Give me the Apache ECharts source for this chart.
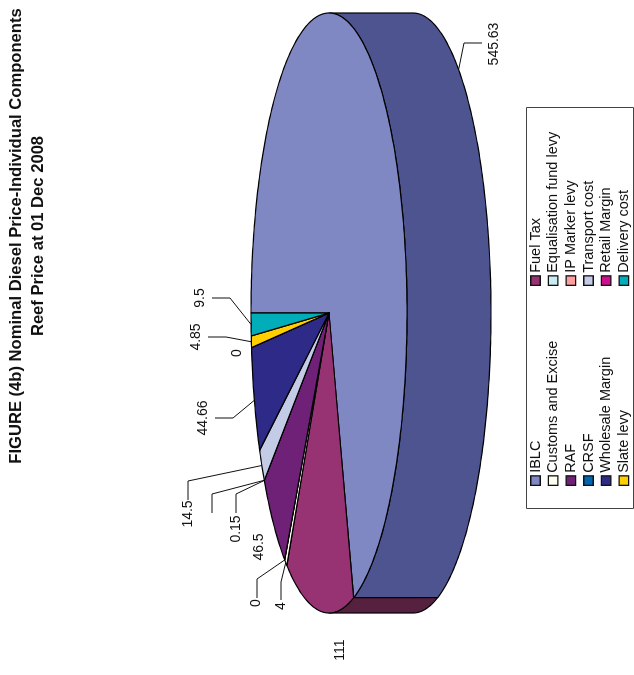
<!DOCTYPE html>
<html>
<head>
<meta charset="utf-8">
<style>
html,body{margin:0;padding:0;background:#fff;overflow:hidden;width:634px;height:675px}
#stage{position:absolute;left:0;top:0;width:675px;height:634px;transform-origin:0 0;transform:translate(0,675px) rotate(-90deg)}
</style>
<script src="https://cdn.jsdelivr.net/npm/echarts@6/dist/echarts.min.js"></script>
</head>
<body>
<div id="stage"></div>
<script>
// Data, in pie order (clockwise from 12 o'clock in the chart's own frame)
var categories = ['IBLC','Fuel Tax','Customs and Excise','Equalisation fund levy','RAF','IP Marker levy','CRSF','Transport cost','Wholesale Margin','Retail Margin','Slate levy','Delivery cost'];
var values = [545.63,111,4,0,46.5,0.15,0,14.5,44.66,0,4.85,9.5];
var valueLabels = ['545.63','111','4','0','46.5','0.15','','14.5','44.66','0','4.85','9.5'];
var legendLeft = ['IBLC','Customs and Excise','RAF','CRSF','Wholesale Margin','Slate levy'];
var legendRight = ['Fuel Tax','Equalisation fund levy','IP Marker levy','Transport cost','Retail Margin','Delivery cost'];
var titleLines = ['FIGURE (4b) Nominal Diesel Price-Individual Components','Reef Price at 01 Dec 2008'];

// Styles and layout
var faceColors = ['#8088c4','#983373','#fffff0','#c8ecf2','#6f2178','#ff9e9e','#0066b3','#c3cbe6','#2e2a87','#cc0f8f','#ffcf00','#00adb9'];
var wallColors = ['#4d5490','#56203f'];
var pie = {cx:362, cy:329, rx:300, ry:78, depth:84};
var FONT = '"Liberation Sans", Arial, sans-serif';
// label layout per slice: text centre and leader elbow/end (null = no leader)
var labelLayout = [
  {text:[631,494], leader:[[632,464],[632,482]], onWall:true},
  {text:[25,340], leader:null},
  {text:[69,281], leader:[[93,281],[75,281]]},
  {text:[72,256], leader:[[96,257],[77,257]]},
  {text:[128,259.5], leader:null},
  {text:[146,236], leader:[[181,236],[162,236]]},
  {text:null, leader:[[181,212],[162,212]]},
  {text:[161,188], leader:[[194,188],[175,188]]},
  {text:[257,203], leader:[[257,233],[257,215]]},
  {text:[322,237], leader:null},
  {text:[338,196], leader:[[338,226],[338,208]]},
  {text:[377,200], leader:[[377,230],[377,212]]}
];

var total = values.reduce(function(a,b){return a+b;},0);
var starts = [], acc = 0;
values.forEach(function(v){ starts.push(acc/total*360); acc += v; });

function pt(deg, dy){
  var t = deg*Math.PI/180;
  return [pie.cx + pie.rx*Math.sin(t), pie.cy - pie.ry*Math.cos(t) + (dy||0)];
}
function arc(a, b, dy){
  var out = [], n = Math.max(1, Math.ceil((b-a)));
  for (var i=0;i<=n;i++) out.push(pt(a+(b-a)*i/n, dy));
  return out;
}
function renderSlice(params, api){
  var i = params.seriesIndex;
  var sweep = api.value(0)/total*360;
  var a = starts[i], b = a + sweep;
  var children = [];
  var lo = Math.max(a,90), hi = Math.min(b,270);
  if (hi > lo) {
    children.push({type:'polygon', shape:{points: arc(lo,hi,0).concat(arc(lo,hi,pie.depth).reverse())},
      style:{fill:wallColors[i]||faceColors[i], stroke:'#000', lineWidth:1.2, lineJoin:'round'}});
  }
  children.push({type:'polygon', shape:{points:[[pie.cx,pie.cy]].concat(arc(a,b,0))},
    style:{fill:faceColors[i], stroke:'#000', lineWidth:1.2, lineJoin:'round'}});
  var lay = labelLayout[i];
  var mid = (a+b)/2;
  if (lay.leader) {
    var anchor = pt(mid, lay.onWall ? pie.depth : 0);
    children.push({type:'polyline', shape:{points:[anchor].concat(lay.leader)},
      style:{fill:null, stroke:'#111', lineWidth:1}});
  }
  if (lay.text) {
    children.push({type:'text', style:{x:lay.text[0], y:lay.text[1], text:valueLabels[i], align:'center', verticalAlign:'middle',
      fill:'#111', font:'14px '+FONT}});
  }
  return {type:'group', children:children};
}

var series = categories.map(function(name,i){
  return {type:'custom', name:name, coordinateSystem:'none', silent:true, clip:false, animation:false,
    itemStyle:{color:faceColors[i]}, renderItem:renderSlice, data:[[values[i]]]};
});

function legend(data, left){
  return {data:data, orient:'vertical', left:left, top:528, icon:'rect', itemWidth:9.5, itemHeight:9.5, itemGap:2.67,
    selectedMode:false, padding:0, align:'left',
    itemStyle:{borderColor:'#111', borderWidth:1.3},
    textStyle:{color:'#111', fontFamily:FONT, fontSize:14.5, padding:[0,0,0,-2]}};
}

var chart = echarts.init(document.getElementById('stage'), null, {width:675, height:634});
chart.setOption({
  backgroundColor:'#fff',
  animation:false,
  title:{text:titleLines.join('\n'), left:439, top:5, textAlign:'center', padding:0,
    textStyle:{fontFamily:FONT, fontSize:16.6, fontWeight:'bold', color:'#111', lineHeight:22}},
  legend:[legend(legendLeft,189), legend(legendRight,389)],
  graphic:[{type:'rect', z:-1, shape:{x:166.5,y:526.5,width:401,height:107},
    style:{fill:'#fff', stroke:'#444', lineWidth:1}}],
  series:series
});
</script>
</body>
</html>
